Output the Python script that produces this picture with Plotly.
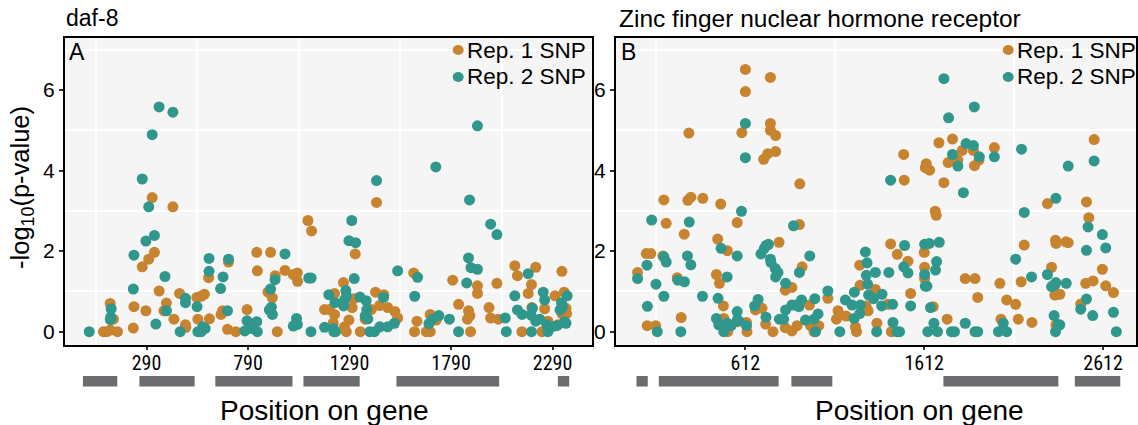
import plotly.graph_objects as go

# ---------------- data ----------------
# Panel A (daf-8)
a_rep1_x = [318,420,329,301,269,352,453,111,127,228,287,225,388,376,425,482,484,78,94,111,147,538,559,575,543,600,596,694,657,665,689,730,
            1423,1085,1103,1318,833,901,836,924,972,1013,1033,1034,888,910,785,934,1260,1216,1167,1191,1216,1210,1287,1265,1274,1311,1303,1343,1418,1459,1438,1478,1514,1527,1397,1367,1606,1610,
            1687,1622,1668,1687,1717,1798,1827,1876,1883,1871,1886,1920,1920,2016,1977,1985,2023,2104,2117,2207,2186,2170,2188,2139,2238,2251,2267,2302,2336,2347,2356,2359,2336,2316]
a_rep1_y = [3.33,3.10,1.97,1.80,1.61,1.01,0.95,0.70,0.31,0.62,0.52,0.09,0.71,0.52,0.31,0.17,0.11,0,0,0.04,0,0.85,0.88,0.93,0.31,0.32,1.34,1.73,0.43,0.52,0.06,0,
            3.21,2.76,2.50,1.93,1.97,1.97,1.51,1.39,1.52,1.42,1.46,1.25,0.98,0.84,0.55,0,1.22,0.95,0.55,0.55,0.43,0.22,0.29,0.12,0,0.82,0.60,0,0.98,0.92,0.65,0.60,0.50,0.34,0.55,0.31,1.46,0,
            0.43,0.26,0,0,0.29,1.28,0.68,0.52,0.40,0.31,0,1.14,0.95,1.20,0.60,0.34,0.31,1.64,1.39,1.60,1.17,0.95,0.60,0,0,0.57,0.26,0.89,1.50,0.98,0.58,0.45,0.45,0.17]
a_rep2_x = [8,352,420,318,269,301,329,287,228,381,225,116,112,114,336,388,482,482,539,456,543,567,579,559,598,598,667,655,694,689,
            1423,1301,1287,1320,1313,972,923,901,905,895,910,785,833,774,806,836,1029,1013,1033,1100,1089,1101,1188,1218,1261,1265,1272,1275,1167,1210,1213,1221,1341,1372,1375,1367,1380,1390,1413,1439,1478,1511,1457,1527,
            1920,1715,1881,1985,2016,1876,1888,1920,1867,1625,1611,1681,1697,1730,1782,1827,2057,2062,2104,2117,2140,2170,2184,2191,2186,2207,2227,2244,2251,2262,2267,2287,2311,2327,2334,2339,2349,2356,2362]
a_rep2_y = [0,5.58,5.45,4.89,3.79,3.10,2.39,2.25,1.90,1.37,1.06,0.57,0.30,0.36,0.19,0.52,0.83,0.72,0.62,0,0,0.12,0.08,0,1.82,1.50,1.36,1.07,1.80,0.52,
            3.75,2.76,2.26,2.21,1.32,1.93,1.29,1.06,0.61,0.54,0.43,0.27,0.25,0.02,0.08,0,0.33,0.14,0.18,0,1.33,1.33,0.92,0.72,0.64,0.79,1.02,0.88,0.11,0.08,0,0,0.86,0.77,0.55,0.39,0.32,0,0,0.12,0.12,0.21,0.85,1.51,
            5.11,4.09,3.27,2.67,2.41,1.83,1.59,1.55,1.21,1.35,0.88,0.20,0.31,0.40,0.31,0,0.34,0,0.89,0.54,0.43,1.44,0.41,0.58,0,0.26,0.31,0.98,0.79,0.17,0,0.12,0.15,0.54,0.72,0.62,0.25,0.21,0.89]

# Panel B (Zinc finger nuclear hormone receptor)
b_rep1_x = [612,752,612,752,752,781,592,296,781,737,714,156,290,307,374,474,169,566,270,457,511,800,58,83,151,9,231,450,467,489,705,668,253,63,110,491,569,618,621,513,725,766,835,835,872,872,
            916,914,929,970,1073,901,976,1022,996,1130,1121,1175,1227,1233,1251,1253,1286,1298,1339,1347,1409,1424,1461,1497,1500,1521,1536,1428,1623,1618,1642,1722,1673,1679,1612,1614,1614,1662,1694,1770,1746,1800,1824,1841,1740,1437,
            1887,1893,1918,2004,1896,1911,2035,2073,2123,2041,2138,2214,2154,2171,2301,2519,2562,2532,2346,2349,2404,2417,2324,2342,2353,2370,2515,2556,2608,2627,2670,2487,2348]
b_rep1_y = [6.51,6.31,5.96,5.17,5.00,4.87,4.94,4.93,4.47,4.42,4.28,3.27,3.26,3.34,3.31,3.17,2.69,2.71,2.42,2.30,2.01,2.22,1.94,1.94,1.88,1.47,1.34,1.42,1.20,0.64,0.58,0.54,0.35,0.15,0.15,0.33,0.25,0.23,0,0,0.19,0,1.03,0.10,1.10,0.02,
            3.67,2.66,1.61,0.66,0.83,0.15,0.15,0.15,0,0.52,0.31,0.39,0.12,0,1.65,1.15,0.64,0.52,1.05,0.21,0.68,2.18,1.92,4.40,3.76,1.75,0.95,0,4.17,4.07,4.01,3.70,2.99,2.89,1.97,1.60,1.32,0.62,4.69,4.78,4.20,4.26,4.50,1.32,0.31,0.02,
            4.50,4.12,4.26,4.57,1.32,0.85,1.20,0.79,0.68,0.31,0.31,0.23,1.24,2.15,3.18,3.22,4.77,2.83,2.27,2.19,2.23,2.21,1.60,0.91,0.93,0.93,1.20,1.26,1.55,1.14,0.97,0.69,0.17]
b_rep2_x = [612,612,590,88,298,881,476,728,741,718,699,566,288,156,169,307,752,755,779,794,781,62,9,112,234,271,510,837,156,64,372,459,683,664,566,566,575,450,463,491,510,532,618,119,251,727,802,826,837,872,
            972,914,911,926,892,1000,1018,1073,948,995,1004,1140,1171,1208,1221,1220,1255,1251,1283,1292,1288,1295,1301,1329,1339,1376,1374,1435,1346,1437,1459,1474,1414,1424,1502,1498,1521,1536,1614,1640,1696,1681,1675,1614,1618,1627,1647,1666,1632,1686,1764,1781,1841,1722,1748,1770,1800,1846,1831,
            1892,1887,1920,2004,2156,2417,2562,2348,2171,2528,2608,2627,2519,2123,2301,2212,2348,2324,2342,2406,2519,2487,2554,2670,1896,1911,2027,2073,2054,2338,2360,2370,2346,2686]
b_rep2_y = [5.17,4.32,2.99,2.77,2.72,2.63,2.07,2.14,2.17,2.07,1.93,1.88,1.88,1.86,1.73,1.66,1.80,1.72,1.57,1.47,1.36,1.65,1.32,1.18,1.28,1.24,1.36,1.20,0.88,0.63,0.88,0.83,0.80,0.64,0.50,0.29,0.27,0.33,0.17,0,0.21,0.15,0.15,0,0,0.36,0.31,0.31,0.54,0.66,
            1.88,1.47,0.62,0.79,0.66,0.82,0.44,1.01,0.29,0.31,0,0,0.79,0.66,0.98,0.33,0.66,0.45,1.98,1.71,1.40,1.18,0.91,0.82,1.47,0.93,0.64,0.68,0,0.23,0,0,1.47,3.76,2.14,1.61,1.46,0.64,2.17,2.19,2.22,1.74,1.53,1.42,1.13,1.13,0.60,0.21,0,0,0,0,0.21,6.28,5.31,4.40,4.11,4.67,3.45,
            5.58,4.62,4.34,4.34,4.53,4.11,4.24,3.31,2.96,2.60,2.41,2.08,2.02,1.80,1.42,1.36,1.22,1.12,1.16,1.20,0.81,0.56,0.40,0.48,0,0,0,0,0.21,0.40,0.17,0.17,0,0]

# tick labels / gene structure (exons)
a_ticks = [290, 790, 1290, 1790, 2290]
b_ticks = [612, 1612, 2612]
a_exon_start = [-23, 255, 629, 1063, 1521, 2316]
a_exon_end = [146, 527, 1009, 1340, 2027, 2372]
b_exon_start = [3, 128, 869, 1719, 2454]
b_exon_end = [66, 798, 1098, 2362, 2708]

series_names = ["Rep. 1 SNP", "Rep. 2 SNP"]
panel_titles = ["daf-8", "Zinc finger nuclear hormone receptor"]
panel_labels = ["A", "B"]

# ---------------- style ----------------
W, H = 1138, 425
ORANGE = "#C8832F"
TEAL = "#2F978C"
FONT = "Liberation Sans, Arial, sans-serif"
NARROW = "Liberation Sans Narrow, Arial Narrow, Roboto Condensed, sans-serif"

def px(x):
    return x / W

def py(y):
    return 1 - y / H

fig = go.Figure()
mk = dict(size=11, line=dict(width=0))
fig.add_trace(go.Scatter(x=a_rep1_x, y=a_rep1_y, mode="markers", marker=dict(color=ORANGE, **mk), name=series_names[0], xaxis="x", yaxis="y"))
fig.add_trace(go.Scatter(x=a_rep2_x, y=a_rep2_y, mode="markers", marker=dict(color=TEAL, **mk), name=series_names[1], xaxis="x", yaxis="y"))
fig.add_trace(go.Scatter(x=b_rep1_x, y=b_rep1_y, mode="markers", marker=dict(color=ORANGE, **mk), name=series_names[0], xaxis="x2", yaxis="y2"))
fig.add_trace(go.Scatter(x=b_rep2_x, y=b_rep2_y, mode="markers", marker=dict(color=TEAL, **mk), name=series_names[1], xaxis="x2", yaxis="y2"))

ydom = [py(345), py(38)]
common_x = dict(showline=True, mirror=True, linecolor="black", linewidth=2, zeroline=False,
                showgrid=False, ticks="outside", ticklen=3, tickwidth=1.5, tickcolor="#333",
                ticklabelstandoff=-4,
                tickfont=dict(family=NARROW, size=20, color="black"), fixedrange=True)
common_y = dict(showline=True, mirror=True, linecolor="black", linewidth=2, zeroline=False,
                showgrid=False, ticks="outside", ticklen=4, tickwidth=1.5, tickcolor="#333",
                tickvals=[0, 2, 4, 6], tickfont=dict(family=FONT, size=21, color="black"),
                range=[-0.33, 7.29], domain=ydom,
                minor=dict(tickvals=[1, 3, 5, 7], showgrid=True, gridcolor="white", gridwidth=1.5))

fig.update_layout(
    width=W, height=H, margin=dict(l=0, r=0, t=0, b=0),
    paper_bgcolor="white", plot_bgcolor="#F5F5F5", showlegend=False,
    font=dict(family=FONT, color="black"),
    xaxis=dict(domain=[px(65), px(593)], range=[-112, 2484], tickvals=a_ticks, anchor="y",
               minor=dict(tickvals=[t - 250 for t in a_ticks], showgrid=True, gridcolor="white", gridwidth=1.5),
               **common_x),
    yaxis=dict(anchor="x", **common_y),
    xaxis2=dict(domain=[px(617), 1.0], range=[-112, 2796], tickvals=b_ticks, anchor="y2",
                minor=dict(tickvals=[t - 500 for t in b_ticks], showgrid=True, gridcolor="white", gridwidth=1.5),
                **common_x),
    yaxis2=dict(anchor="x2", **common_y),
)

shapes = []
for s, e in zip(a_exon_start, a_exon_end):
    shapes.append(dict(type="rect", xref="x", yref="paper", x0=s, x1=e, y0=py(386.5), y1=py(376),
                       fillcolor="#6D6D70", line=dict(width=0), layer="above"))
for s, e in zip(b_exon_start, b_exon_end):
    shapes.append(dict(type="rect", xref="x2", yref="paper", x0=s, x1=e, y0=py(386.5), y1=py(376),
                       fillcolor="#6D6D70", line=dict(width=0), layer="above"))
# legend glyphs
for cx, cy, col in [(459, 50, ORANGE), (459, 77, TEAL), (1010, 50, ORANGE), (1010, 77, TEAL)]:
    shapes.append(dict(type="circle", xref="paper", yref="paper", x0=px(cx - 5.5), x1=px(cx + 5.5),
                       y0=py(cy + 5), y1=py(cy - 5), fillcolor=col, line=dict(width=0)))
fig.update_layout(shapes=shapes)

ann = []
ann.append(dict(text=panel_titles[0], x=px(64), y=py(18), xanchor="left", yanchor="middle", font=dict(size=23)))
ann.append(dict(text=panel_titles[1], x=px(618), y=py(18), xanchor="left", yanchor="middle", font=dict(size=24.5)))
ann.append(dict(text=panel_labels[0], x=px(67), y=py(52), xanchor="left", yanchor="middle", font=dict(size=23)))
ann.append(dict(text=panel_labels[1], x=px(620), y=py(52), xanchor="left", yanchor="middle", font=dict(size=23)))
for lx in (466, 1017):
    ann.append(dict(text=series_names[0], x=px(lx), y=py(50), xanchor="left", yanchor="middle", font=dict(size=22.5)))
    ann.append(dict(text=series_names[1], x=px(lx), y=py(77), xanchor="left", yanchor="middle", font=dict(size=22.5)))
ann.append(dict(text="-log<sub>10</sub>(p-value)", x=px(22), y=py(187), xanchor="center", yanchor="middle",
                textangle=-90, font=dict(size=25.5)))
ann.append(dict(text="Position on gene", x=px(325), y=py(410), xanchor="center", yanchor="middle", font=dict(size=28)))
ann.append(dict(text="Position on gene", x=px(921), y=py(410), xanchor="center", yanchor="middle", font=dict(size=28)))

for a in ann:
    a.update(xref="paper", yref="paper", showarrow=False)
fig.update_layout(annotations=ann)

fig.write_html("out.html")
